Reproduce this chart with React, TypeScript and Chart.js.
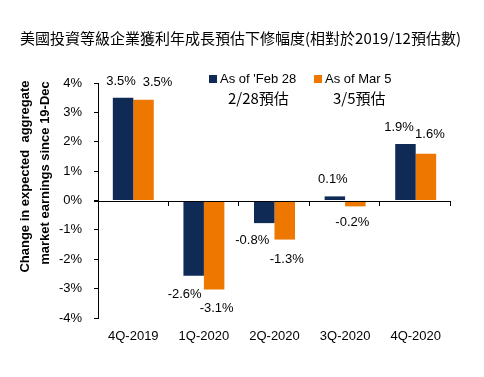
import React, { useEffect, useRef } from "react";
import { Chart, registerables } from "chart.js";

Chart.register(...registerables);

const categories = ["4Q-2019", "1Q-2020", "2Q-2020", "3Q-2020", "4Q-2020"];
const febValues = [3.5, -2.56, -0.77, 0.14, 1.92];
const marValues = [3.43, -3.03, -1.33, -0.2, 1.59];
const febLabels = ["3.5%", "-2.6%", "-0.8%", "0.1%", "1.9%"];
const marLabels = ["3.5%", "-3.1%", "-1.3%", "-0.2%", "1.6%"];
const seriesNames = ["As of 'Feb 28", "As of Mar 5"];
const seriesNotes = ["2/28預估", "3/5預估"];
const yTicks = [-4, -3, -2, -1, 0, 1, 2, 3, 4];
const titleText = "美國投資等級企業獲利年成長預估下修幅度(相對於2019/12預估數)";
const yTitle = ["Change in expected  aggregate", "market earnings since 19-Dec"];

const NAVY = "#0E2A55";
const ORANGE = "#EE7700";
const FONT = "'Liberation Sans', Arial, sans-serif";
const CJK = "'Noto Sans CJK TC', 'Liberation Sans', sans-serif";

// label offsets relative to the bar end (style, not data)
const febOffsets = [[-2, -16], [-9, 19], [-12, 17], [-2, -17], [-6.5, -17]];
const marOffsets = [[14, -17], [2.5, 19], [2, 20], [-3, 16], [4, -19]];

const overlay = {
  id: "overlay",
  afterDatasetsDraw(chart: any) {
    const ctx = chart.ctx;
    const area = chart.chartArea;
    const y = chart.scales.y;
    const zero = y.getPixelForValue(0);
    ctx.save();
    // zero line
    ctx.strokeStyle = "#000";
    ctx.lineWidth = 1;
    ctx.beginPath();
    ctx.moveTo(area.left - 4, Math.round(zero) + 0.5);
    ctx.lineTo(area.right, Math.round(zero) + 0.5);
    ctx.stroke();
    // category separator ticks
    const n = categories.length;
    const w = (area.right - area.left) / n;
    for (let i = 1; i <= n; i++) {
      const x = Math.round(area.left + w * i) - 0.5;
      ctx.beginPath();
      ctx.moveTo(x, Math.round(zero));
      ctx.lineTo(x, Math.round(zero) + 5);
      ctx.stroke();
    }
    // data labels
    ctx.fillStyle = "#000";
    ctx.font = "13px " + FONT;
    ctx.textAlign = "center";
    ctx.textBaseline = "middle";
    const sets = [
      [febLabels, febOffsets],
      [marLabels, marOffsets],
    ];
    sets.forEach(([labels, offs]: any, di: number) => {
      const meta = chart.getDatasetMeta(di);
      meta.data.forEach((bar: any, i: number) => {
        ctx.fillText(labels[i], bar.x + offs[i][0], bar.y + offs[i][1]);
      });
    });
    // title
    ctx.font = "15px " + CJK;
    ctx.fillText(titleText, 240.5, 38);
    // y axis title
    ctx.save();
    ctx.font = "bold 13px " + FONT;
    ctx.translate(25.5, 176.5);
    ctx.rotate(-Math.PI / 2);
    ctx.fillText(yTitle[0], 0, 0);
    ctx.restore();
    ctx.save();
    ctx.font = "bold 13px " + FONT;
    ctx.translate(45, 173);
    ctx.rotate(-Math.PI / 2);
    ctx.fillText(yTitle[1], 0, 0);
    ctx.restore();
    // legend
    const colors = [NAVY, ORANGE];
    const lx = [209, 314];
    ctx.textAlign = "left";
    for (let i = 0; i < 2; i++) {
      ctx.fillStyle = colors[i];
      ctx.fillRect(lx[i], 75, 8, 8);
      ctx.fillStyle = "#000";
      ctx.font = "13px " + FONT;
      ctx.fillText(seriesNames[i], lx[i] + 11, 79);
    }
    ctx.font = "15px " + CJK;
    ctx.fillText(seriesNotes[0], 228, 98);
    ctx.fillText(seriesNotes[1], 333, 98);
    ctx.restore();
  },
};

export default function App() {
  const ref = useRef<HTMLCanvasElement>(null);
  useEffect(() => {
    document.body.style.margin = "0";
    const chart = new Chart(ref.current as HTMLCanvasElement, {
      type: "bar",
      data: {
        labels: categories,
        datasets: [
          { label: seriesNames[0], data: febValues, backgroundColor: NAVY, barPercentage: 1, categoryPercentage: 0.58 },
          { label: seriesNames[1], data: marValues, backgroundColor: ORANGE, barPercentage: 1, categoryPercentage: 0.58 },
        ],
      },
      options: {
        animation: false,
        responsive: false,
        devicePixelRatio: 1,
        layout: { padding: { top: 83, right: 33, bottom: 0, left: 0 } },
        plugins: { legend: { display: false }, title: { display: false }, tooltip: { enabled: false } },
        scales: {
          x: {
            grid: { display: false, drawTicks: false },
            border: { display: false },
            ticks: { color: "#000", font: { family: FONT, size: 13 }, padding: 11, maxRotation: 0 },
            afterFit: (s: any) => { s.height = 59; },
          },
          y: {
            min: -4,
            max: 4,
            afterBuildTicks: (s: any) => { s.ticks = yTicks.map((v) => ({ value: v })); },
            grid: { drawOnChartArea: false, drawTicks: true, tickLength: 4, color: "#000" },
            border: { display: true, color: "#000", width: 1 },
            ticks: {
              color: "#000",
              font: { family: FONT, size: 13 },
              padding: 12,
              callback: (v: any) => v + "%",
            },
            title: { display: false },
            afterFit: (s: any) => { s.width = 98; },
          },
        },
      },
      plugins: [overlay],
    });
    return () => chart.destroy();
  }, []);
  return (
    <div style={{ position: "absolute", left: 0, top: 0, width: 484, height: 377 }}>
      <canvas ref={ref} width={484} height={377} />
    </div>
  );
}
